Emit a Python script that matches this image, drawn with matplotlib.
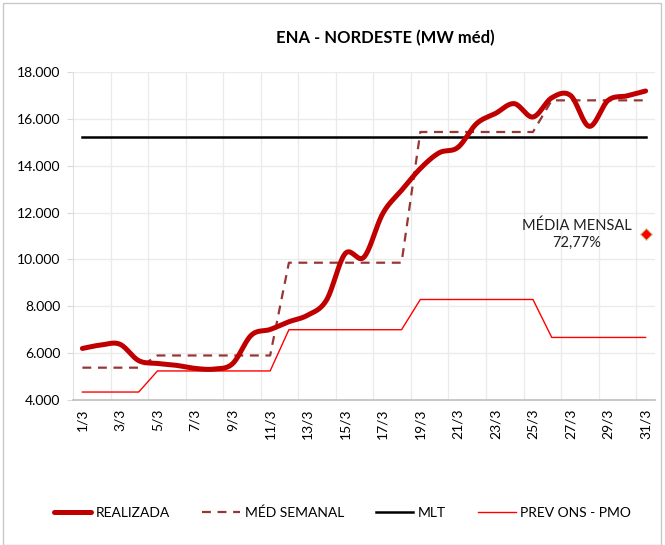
import numpy as np
import matplotlib
matplotlib.use("Agg")
import matplotlib.pyplot as plt
from matplotlib.ticker import FuncFormatter
from matplotlib.patches import Rectangle

plt.rcParams['font.family'] = ['Lato', 'DejaVu Sans']

days = [f"{d}/3" for d in range(1, 32)]

realizada = [6200, 6350, 6380, 5680, 5560, 5480, 5350, 5320, 5550, 6770,
             7010, 7340, 7620, 8260, 10250, 10100, 11960, 12950, 13880, 14550,
             14780, 15800, 16230, 16650, 16080, 16900, 17000, 15680, 16790, 16980,
             17190]
med_semanal = [5380] * 4 + [5900] * 7 + [9860] * 7 + [15440] * 7 + [16790] * 6
mlt = [15220] * 31
prev_ons = [4340] * 4 + [5240] * 7 + [7000] * 7 + [8290] * 7 + [6670] * 6

media_mensal_y = 11070
media_mensal_label = "MÉDIA MENSAL\n72,77%"


def smooth(y, n=20):
    # Catmull-Rom curve through the points, close to Excel's smoothed line
    y = np.asarray(y, dtype=float)
    p = np.concatenate([[2 * y[0] - y[1]], y, [2 * y[-1] - y[-2]]])
    xs, ys = [], []
    for i in range(len(y) - 1):
        p0, p1, p2, p3 = p[i], p[i + 1], p[i + 2], p[i + 3]
        t = np.linspace(0, 1, n, endpoint=False)
        yy = 0.5 * ((2 * p1) + (-p0 + p2) * t + (2 * p0 - 5 * p1 + 4 * p2 - p3) * t ** 2
                    + (-p0 + 3 * p1 - 3 * p2 + p3) * t ** 3)
        xs.append(i + t)
        ys.append(yy)
    xs.append([len(y) - 1])
    ys.append([y[-1]])
    return np.concatenate(xs), np.concatenate(ys)


fig = plt.figure(figsize=(6.65, 5.45), dpi=100)
ax = fig.add_axes([73 / 665, 1 - 400 / 545, 582 / 665, 328 / 545])

x = np.arange(len(days))
sx, sy = smooth(realizada)
l1, = ax.plot(sx, sy, color="#C00000", lw=3.6, solid_capstyle="round", label="REALIZADA", zorder=5)
l2, = ax.plot(x, med_semanal, color="#953735", lw=1.6, ls=(0, (4, 3)), label="MÉD SEMANAL", zorder=4)
l3, = ax.plot(x, mlt, color="black", lw=1.8, label="MLT", zorder=3)
l4, = ax.plot(x, prev_ons, color="#FF0000", lw=1.0, label="PREV ONS - PMO", zorder=3)

ax.plot([x[-1]], [media_mensal_y], marker="D", ms=6, color="#FF0000",
        markeredgecolor="#C4D79B", markeredgewidth=0.8, ls="none", zorder=6)
ax.text(x[-1] - 0.75, media_mensal_y, media_mensal_label, ha="right", va="center",
        fontsize=10.5, color="#202020", linespacing=1.3, multialignment="center")

ax.set_xlim(-0.5, len(days) - 0.5)
ax.set_ylim(4000, 18000)
ax.set_yticks(range(4000, 18001, 2000))
ax.yaxis.set_major_formatter(FuncFormatter(lambda v, p: f"{int(v):,}".replace(",", ".")))
ax.set_xticks(x[::2])
ax.set_xticklabels(days[::2], rotation=90)
ax.set_xticks(np.arange(1.5, len(days) - 1, 2), minor=True)

ax.grid(axis="y", which="major", color="#ebebeb", lw=1)
ax.grid(axis="x", which="minor", color="#ebebeb", lw=1)
ax.set_axisbelow(True)
ax.tick_params(axis="x", which="both", length=0, labelsize=10, pad=6)
ax.tick_params(axis="y", length=4, color="#d9d9d9", labelsize=10, pad=5)
for s in ["top", "right"]:
    ax.spines[s].set_visible(False)
ax.spines["left"].set_color("#e0e0e0")
ax.spines["bottom"].set_color("#bfbfbf")
ax.spines["bottom"].set_linewidth(1.2)

fig.text(385 / 665, 1 - 38 / 545, "ENA - NORDESTE (MW méd)", ha="center", va="center",
         fontsize=12, fontweight="bold")

fig.legend(handles=[l1, l2, l3, l4], loc="center", bbox_to_anchor=(0.515, 1 - 513 / 545),
           ncol=4, frameon=False, fontsize=10, handlelength=2.7, handletextpad=0.35,
           columnspacing=2.3)

fig.patches.append(Rectangle((0.004, 0.0), 0.99, 0.995, transform=fig.transFigure,
                             fill=False, edgecolor="#c8c8c8", lw=1))

fig.savefig("out.png", dpi=100)
